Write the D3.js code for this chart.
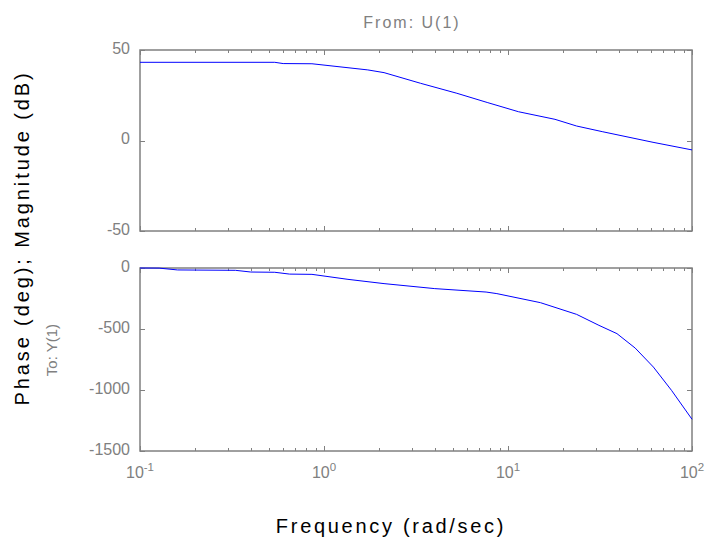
<!DOCTYPE html>
<html>
<head>
<meta charset="utf-8">
<script src="https://cdn.jsdelivr.net/npm/d3@7"></script>
<style>
  html, body { margin: 0; padding: 0; background: #fff; }
  svg { display: block; }
  text { font-family: "Liberation Sans", Arial, sans-serif; }
</style>
</head>
<body>
<svg id="chart" width="709" height="544"></svg>
<script>
// Bode response samples (frequency in rad/sec)
const magFreq = [0.1, 0.54, 0.60, 0.86, 1.73, 2.12, 3.35, 5.27, 7.77, 11.4, 18.0, 23.6, 32.5, 61.4, 100];
const magDb   = [43.2, 43.2, 42.5, 42.4, 39.0, 37.5, 31.6, 26.1, 20.9, 15.9, 11.7, 8.0, 4.9, -1.0, -5.2];

const phaseFreq = [0.1, 0.127, 0.16, 0.33, 0.40, 0.54, 0.65, 0.86, 1.35, 2.12, 4.0, 7.6, 8.7, 15.0, 23.6, 31.2, 39.1, 49.1, 61.7, 77.4, 100];
const phaseDeg  = [0, -1, -16, -19, -33, -35, -50, -52, -93, -128, -169, -197, -210, -284, -380, -470, -538, -656, -812, -1003, -1240];

const magTicks = [50, 0, -50];
const phaseTicks = [0, -500, -1000, -1500];
const freqDecades = [-1, 0, 1, 2];

const titleText = "From: U(1)";
const outputText = "To: Y(1)";
const xLabel = "Frequency (rad/sec)";
const yLabel = "Phase (deg); Magnitude (dB)";

const svg = d3.select("#chart");
const axisGray = "#808080";
const left = 140, right = 692;

const x = d3.scaleLog().domain([0.1, 100]).range([left, right]);
const yMag = d3.scaleLinear().domain([-50, 50]).range([231, 50]);
const yPhase = d3.scaleLinear().domain([-1500, 0]).range([451, 268]);

// minor + major frequency ticks
const minorTicks = [];
for (let d = -1; d < 2; d++) {
  for (let m = 2; m <= 9; m++) minorTicks.push(m * Math.pow(10, d));
}
const majorTicks = freqDecades.map(e => Math.pow(10, e));

function panel(yScale, ticks, freq, vals) {
  const [yb, yt] = yScale.range();
  const g = svg.append("g");
  // tick marks pointing inward on all four sides
  const tk = g.append("g").attr("stroke", axisGray).attr("stroke-width", 1);
  minorTicks.forEach(f => {
    const px = Math.round(x(f)) + 0.5;
    tk.append("line").attr("x1", px).attr("x2", px).attr("y1", yb).attr("y2", yb - 3);
    tk.append("line").attr("x1", px).attr("x2", px).attr("y1", yt).attr("y2", yt + 3);
  });
  majorTicks.forEach(f => {
    const px = Math.round(x(f)) + 0.5;
    tk.append("line").attr("x1", px).attr("x2", px).attr("y1", yb).attr("y2", yb - 5);
    tk.append("line").attr("x1", px).attr("x2", px).attr("y1", yt).attr("y2", yt + 5);
  });
  ticks.forEach(v => {
    const py = Math.round(yScale(v)) + 0.5;
    tk.append("line").attr("x1", left).attr("x2", left + 5).attr("y1", py).attr("y2", py);
    tk.append("line").attr("x1", right).attr("x2", right - 5).attr("y1", py).attr("y2", py);
  });
  // frame
  g.append("rect")
    .attr("x", left).attr("y", yt)
    .attr("width", right - left).attr("height", yb - yt)
    .attr("fill", "none").attr("stroke", axisGray).attr("stroke-width", 1.5);
  // y tick labels
  g.selectAll("text.yt").data(ticks).enter().append("text")
    .attr("class", "yt")
    .attr("x", 130).attr("y", d => yScale(d) - 2)
    .attr("dy", "0.35em")
    .attr("text-anchor", "end")
    .attr("fill", axisGray).attr("font-size", 16)
    .text(d => d);
  // response curve
  const line = d3.line().x(d => x(d[0])).y(d => yScale(d[1]));
  g.append("path")
    .datum(freq.map((f, i) => [f, vals[i]]))
    .attr("d", line)
    .attr("fill", "none").attr("stroke", "#0000ff").attr("stroke-width", 1);
}

panel(yMag, magTicks, magFreq, magDb);
panel(yPhase, phaseTicks, phaseFreq, phaseDeg);

// decade labels 10^n under the phase panel
freqDecades.forEach(e => {
  const t = svg.append("text")
    .attr("x", x(Math.pow(10, e))).attr("y", 478)
    .attr("text-anchor", "middle")
    .attr("fill", axisGray).attr("font-size", 16);
  t.append("tspan").text("10");
  t.append("tspan").attr("font-size", 11.5).attr("dy", -7).text(e);
});

svg.append("text")
  .attr("x", 412).attr("y", 28)
  .attr("text-anchor", "middle")
  .attr("fill", axisGray).attr("font-size", 16)
  .attr("letter-spacing", 2)
  .text(titleText);

svg.append("text")
  .attr("x", 391).attr("y", 533)
  .attr("text-anchor", "middle")
  .attr("fill", "#000").attr("font-size", 20)
  .attr("letter-spacing", 2.7)
  .text(xLabel);

svg.append("text")
  .attr("transform", "translate(29,238) rotate(-90)")
  .attr("text-anchor", "middle")
  .attr("fill", "#000").attr("font-size", 20)
  .attr("letter-spacing", 2.9)
  .text(yLabel);

svg.append("text")
  .attr("transform", "translate(57,350) rotate(-90)")
  .attr("text-anchor", "middle")
  .attr("fill", axisGray).attr("font-size", 15)
  .text(outputText);
</script>
</body>
</html>
